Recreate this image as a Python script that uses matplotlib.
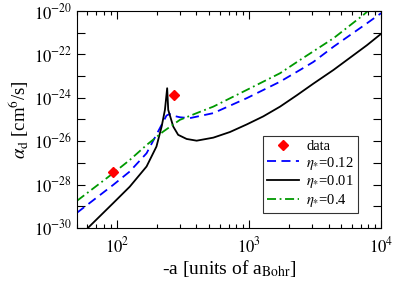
import numpy as np
import matplotlib
matplotlib.use("Agg")
import matplotlib.pyplot as plt
from matplotlib.ticker import FixedLocator, NullFormatter, LogLocator

plt.rcParams["font.family"] = ["Liberation Serif", "DejaVu Serif"]
plt.rcParams["mathtext.fontset"] = "stix"

# values: scattering length -a (units of a_Bohr), log10 alpha_d
black_a = [60.5, 93.8, 125.3, 167.9, 199.5, 218.3, 231.2, 240.4, 244.9, 267.3, 291.1, 337.3,
           401.8, 537, 718, 962, 1282, 1718, 2296, 3069, 4355, 7798, 10000]
black_lg = [-30.0, -28.86, -28.10, -27.17, -26.25, -25.33, -24.56, -23.56, -24.56, -25.33, -25.71, -25.90,
            -25.98, -25.84, -25.58, -25.23, -24.86, -24.41, -23.89, -23.35, -22.72, -21.58, -21.05]

blue_a = [50, 93.8, 125.3, 167.9, 211.8, 237.7, 251, 267.3, 300, 357, 537, 962, 1718, 2432, 3069, 4355, 7798, 10000]
blue_lg = [-29.3, -28.02, -27.40, -26.56, -25.4, -24.82, -24.75, -24.83, -24.9, -24.94, -24.71, -24.02, -23.26,
           -22.72, -22.35, -21.65, -20.57, -20.1]

green_a = [50, 93.8, 125.3, 167.9, 224.4, 300, 401.8, 537, 962, 1718, 2432, 4355, 7345, 7943]
green_lg = [-28.75, -27.48, -26.87, -26.18, -25.56, -25.02, -24.71, -24.41, -23.64, -22.87, -22.26, -21.26,
            -20.18, -20.0]

data_a = [93.7, 270]
data_lg = [-27.43, -23.87]

fig = plt.figure(figsize=(3.95, 2.81), dpi=100)
ax = fig.add_axes([0.195, 0.189, 0.770, 0.772])

ax.plot(data_a, 10.0 ** np.array(data_lg), "D", color="red", ms=5, mec="red", label="data", zorder=5)
ax.plot(blue_a, 10.0 ** np.array(blue_lg), color="#0000ff", lw=1.3, ls=(0, (5, 3)), label=r"$\eta_{*}$=0.12")
ax.plot(black_a, 10.0 ** np.array(black_lg), color="black", lw=1.3, label=r"$\eta_{*}$=0.01")
ax.plot(green_a, 10.0 ** np.array(green_lg), color="#009900", lw=1.3, ls=(0, (5, 2, 1, 2)), label=r"$\eta_{*}$=0.4")

ax.set_xscale("log")
ax.set_yscale("log")
ax.set_xlim(50, 1e4)
ax.set_ylim(1e-30, 1e-20)

ax.set_xticks([1e2, 1e3, 1e4])
ax.set_xticklabels([r"$10^{2}$", r"$10^{3}$", r"$10^{4}$"])
ax.xaxis.set_minor_locator(LogLocator(base=10, subs=np.arange(2, 10)))
ax.xaxis.set_minor_formatter(NullFormatter())

yt = [10.0 ** e for e in range(-30, -19)]
ax.yaxis.set_major_locator(FixedLocator(yt))
ax.set_yticklabels([r"$10^{%d}$" % e if e % 2 == 0 else "" for e in range(-30, -19)])
ax.yaxis.set_minor_locator(FixedLocator([]))

ax.tick_params(which="both", direction="in", top=True, right=True, labelsize=12)
ax.tick_params(which="major", length=6, width=0.8)
ax.tick_params(which="minor", length=3, width=0.8)
ax.tick_params(axis="x", pad=6)

ax.set_xlabel(r"-a [units of a$_{\mathrm{Bohr}}$]", fontsize=14, labelpad=1)
ax.set_ylabel(r"$\alpha_{\mathrm{d}}$ [cm$^{6}$/s]", fontsize=13.5, labelpad=2)

leg = ax.legend(loc="upper left", bbox_to_anchor=(0.612, 0.424), borderaxespad=0,
                fontsize=10.5, frameon=True, fancybox=False, handlelength=2.2,
                labelspacing=0.12, borderpad=0.25, handletextpad=0.5)
leg.get_frame().set_edgecolor("black")
leg.get_frame().set_linewidth(0.8)

fig.savefig("out.png", dpi=100)
